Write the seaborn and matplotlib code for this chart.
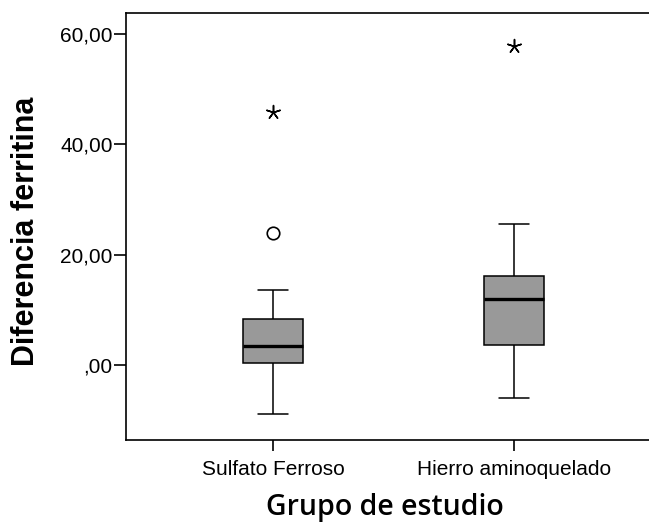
import matplotlib
matplotlib.use("Agg")
import matplotlib.pyplot as plt
import seaborn as sns
import pandas as pd

# Data
groups = ["Sulfato Ferroso", "Hierro aminoquelado"]
lower_whisker = [-8.9, -6.0]
q1 = [0.3, 3.6]
median = [3.5, 12.0]
q3 = [8.3, 16.1]
upper_whisker = [13.5, 25.5]
mild_outliers = [[23.9], []]        # circles
extreme_outliers = [[45.8], [57.7]]  # stars
y_ticks = [0, 20, 40, 60]
y_tick_labels = [",00", "20,00", "40,00", "60,00"]

rows = []
for i, g in enumerate(groups):
    for v in (lower_whisker[i], q1[i], median[i], q3[i], upper_whisker[i]):
        rows.append({"grupo": g, "valor": v})
box_df = pd.DataFrame(rows)
mild_df = pd.DataFrame([{"grupo": g, "valor": v} for g, vals in zip(groups, mild_outliers) for v in vals])
ext_df = pd.DataFrame([{"grupo": g, "valor": v} for g, vals in zip(groups, extreme_outliers) for v in vals])

sns.set_style("white")
plt.rcParams["font.family"] = ["Liberation Sans", "DejaVu Sans"]
plt.rcParams["text.color"] = "black"
plt.rcParams["axes.labelcolor"] = "black"
plt.rcParams["xtick.color"] = "black"
plt.rcParams["ytick.color"] = "black"

fig = plt.figure(figsize=(6.49, 5.29), dpi=100)
ax = fig.add_axes([0.1949, 0.1682, 0.8051, 0.8078])

sns.boxplot(data=box_df, x="grupo", y="valor", order=groups, ax=ax,
            whis=(0, 100), width=0.25, color="#999999", saturation=1,
            linecolor="black", linewidth=1.1, showfliers=False,
            medianprops=dict(linewidth=2.4, color="black"))

sns.stripplot(data=mild_df, x="grupo", y="valor", order=groups, ax=ax,
              jitter=False, marker="o", size=9, color="white",
              edgecolor="black", linewidth=1.2)
sns.stripplot(data=ext_df, x="grupo", y="valor", order=groups, ax=ax,
              jitter=False, marker=(5, 2, 0), size=10, color="black",
              linewidth=1.1)

ax.set_xlim(-0.61, 1.56)
ax.set_ylim(-13.6, 63.8)
ax.set_yticks(y_ticks)
ax.set_yticklabels(y_tick_labels)
ax.set_xticks(range(len(groups)))
ax.set_xticklabels(groups)

for side in ["left", "top", "bottom"]:
    ax.spines[side].set_visible(True)
    ax.spines[side].set_color("black")
    ax.spines[side].set_linewidth(1.2)
ax.spines["right"].set_visible(False)

ax.tick_params(axis="y", which="major", left=True, length=9, width=1.2,
               pad=1, labelsize=15, color="black", labelcolor="black")
ax.tick_params(axis="x", which="major", bottom=True, length=8, width=1.2,
               pad=6.5, labelsize=15, color="black", labelcolor="black")

ax.set_ylabel("Diferencia ferritina", fontsize=22, fontweight="bold",
              family=["Liberation Sans", "DejaVu Sans"], color="black")
ax.set_xlabel("Grupo de estudio", fontsize=20.5, fontweight="semibold",
              family=["Open Sans", "DejaVu Sans"], color="black")
ax.yaxis.label.set_va("center")
ax.xaxis.label.set_va("center")
ax.yaxis.set_label_coords(-0.193, 0.489)
ax.xaxis.set_label_coords(0.4947, -0.159)

fig.savefig("out.png", dpi=100)
